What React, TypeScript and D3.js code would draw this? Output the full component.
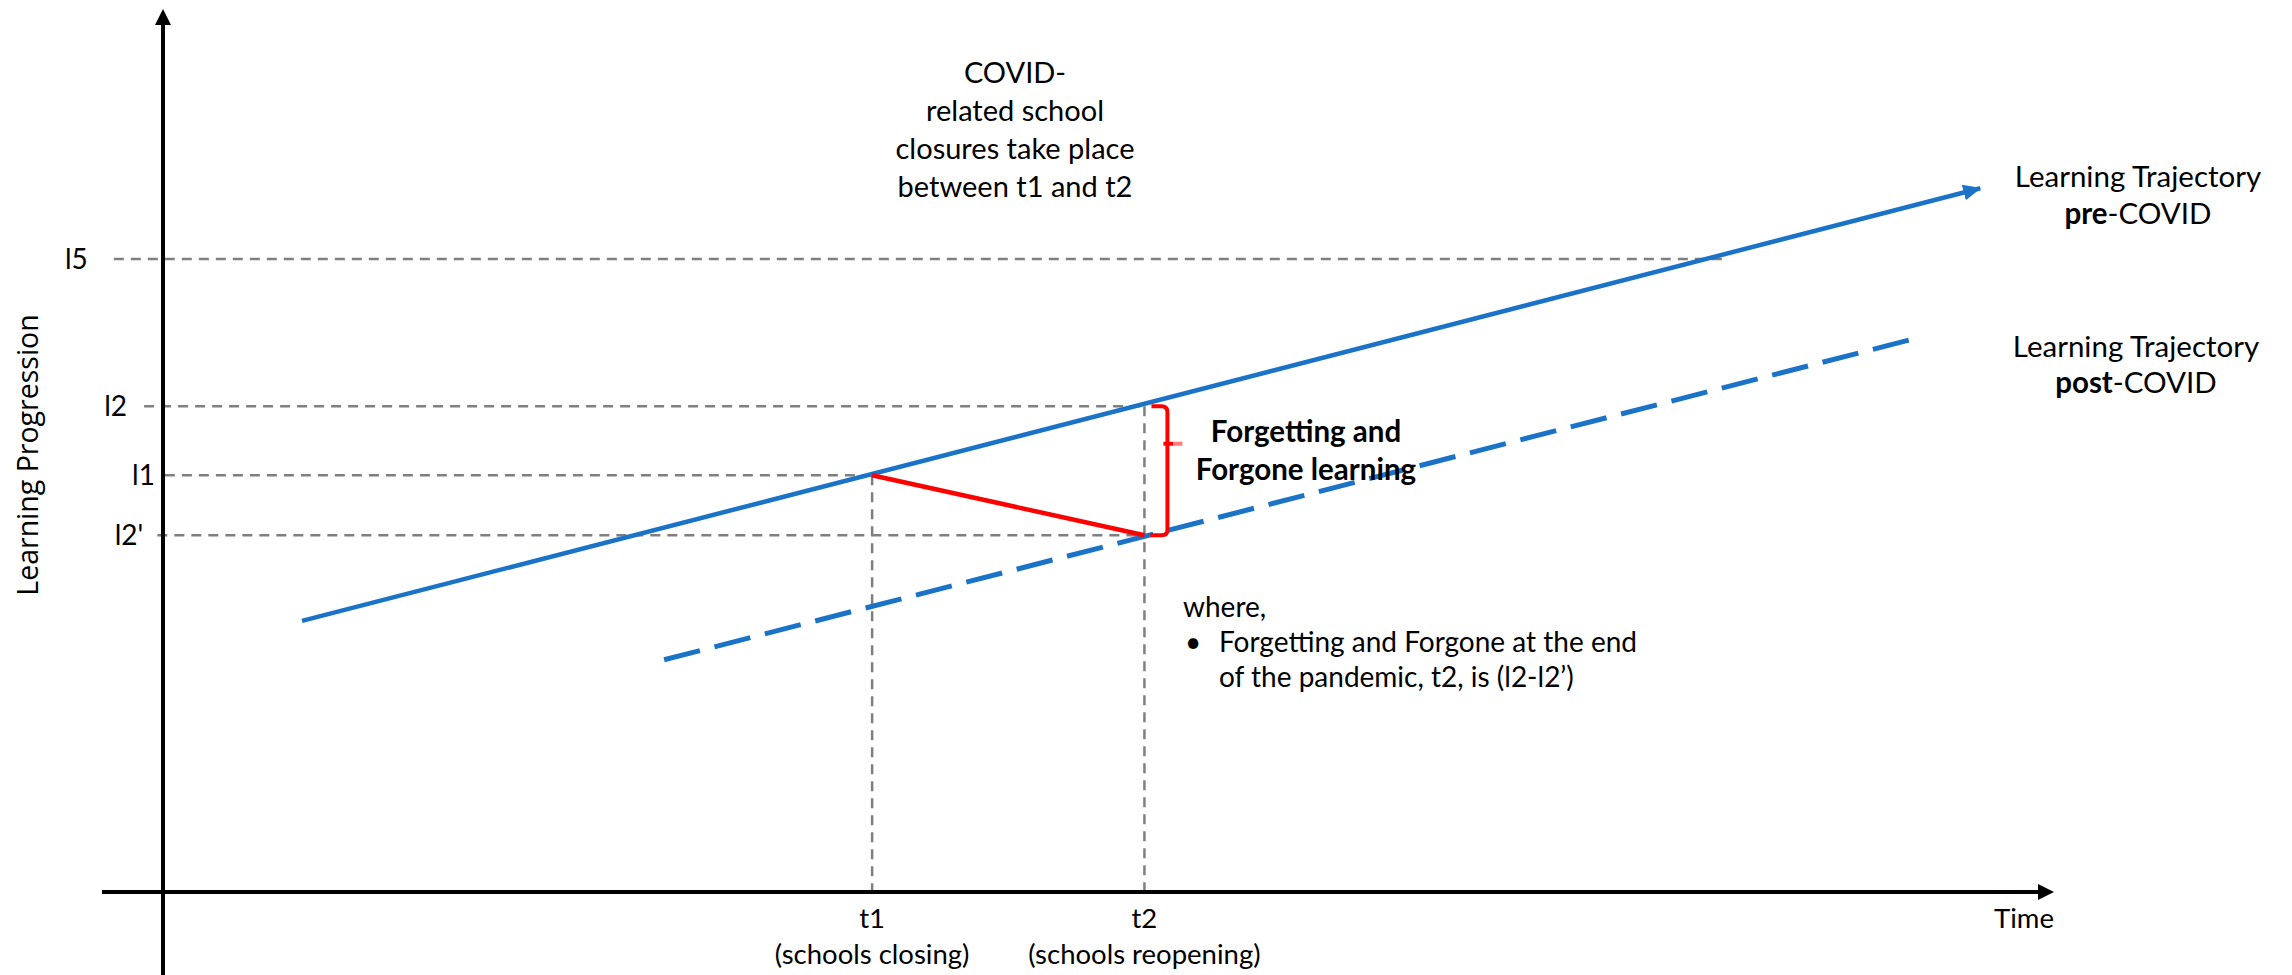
import * as d3 from "d3";

const WIDTH = 2292;
const HEIGHT = 975;

// time positions (abstract units along the Time axis)
const timeNames = ["t1", "t2"];
const timeValues = [37.5, 51.9];
const timeNotes = ["(schools closing)", "(schools reopening)"];

// learning levels marked on the vertical axis
const levelNames = ["l5", "l2", "l1", "l2'"];
const levelValues = [71.7, 55.0, 47.2, 40.4];
const levelLineFrom = [-2.6, -1.0, 0.1, -0.3];
const levelLineTo = [82.6, 51.9, 37.5, 51.9];

// trajectories: [time, level]
const preCovid: [number, number][] = [
  [7.35, 30.7],
  [96.1, 79.7],
];
const postCovid: [number, number][] = [
  [26.5, 26.3],
  [92.5, 62.6],
];
// drop in learning while schools are closed: (t1, l1) -> (t2, l2')
const closureLoss: [number, number][] = [
  [37.5, 47.2],
  [51.9, 40.4],
];

const covidNote = [
  "COVID-",
  "related school",
  "closures take place",
  "between t1 and t2",
];
const whereNote = [
  "Forgetting and Forgone at the end",
  "of the pandemic, t2, is (l2-l2\u2019)",
];

const FONT = "Lato, 'Open Sans', sans-serif";
const BLUE = "#1b73c8";
const RED = "#ff0000";
const GREY = "#7f7f7f";

export default function App() {
  const x = d3.scaleLinear().domain([0, 100]).range([163, 2054]);
  const y = d3.scaleLinear().domain([0, 100]).range([892, 9]);

  const line = d3
    .line<[number, number]>()
    .x((d) => x(d[0]))
    .y((d) => y(d[1]));

  const [x0, x1] = x.range();
  const [yBottom, yTop] = y.range();

  // brace between l2 and l2' just right of t2
  const bx = x(timeValues[1]) + 23;
  const bTop = y(levelValues[1]);
  const bBot = y(levelValues[3]);
  const bMid = bTop + (bBot - bTop) * 0.29;
  const brace = d3.path();
  brace.moveTo(bx - 16, bTop);
  brace.lineTo(bx - 6, bTop);
  brace.quadraticCurveTo(bx, bTop, bx, bTop + 6);
  brace.lineTo(bx, bBot - 5);
  brace.quadraticCurveTo(bx, bBot, bx - 6, bBot);
  brace.lineTo(bx - 17, bBot);

  const labelGap = [26, 17, 10, 14];

  return (
    <svg
      width={WIDTH}
      height={HEIGHT}
      viewBox={`0 0 ${WIDTH} ${HEIGHT}`}
      style={{ position: "absolute", left: 0, top: 0, display: "block", background: "#fff" }}
      fontFamily={FONT}
    >
      <defs>
        <marker
          id="blueHead"
          markerUnits="userSpaceOnUse"
          viewBox="0 -9 18 18"
          refX={17}
          refY={0}
          markerWidth={18}
          markerHeight={18}
          orient="auto"
        >
          <path d="M0,-8L18,0L0,8Z" fill={BLUE} />
        </marker>
      </defs>

      {/* level reference lines */}
      {levelNames.map((name, i) => (
        <g key={name}>
          <line
            x1={x(levelLineFrom[i])}
            x2={x(levelLineTo[i])}
            y1={y(levelValues[i])}
            y2={y(levelValues[i])}
            stroke={GREY}
            strokeWidth={2.5}
            strokeDasharray="10 7"
          />
          <text
            x={x(levelLineFrom[i]) - labelGap[i]}
            y={y(levelValues[i]) + 10}
            textAnchor="end"
            fontSize={28}
          >
            {name}
          </text>
        </g>
      ))}

      {/* time reference lines */}
      {timeNames.map((name, i) => (
        <g key={name}>
          <line
            x1={x(timeValues[i])}
            x2={x(timeValues[i])}
            y1={y(i === 0 ? levelValues[2] : levelValues[1])}
            y2={yBottom}
            stroke={GREY}
            strokeWidth={2.5}
            strokeDasharray="10 7"
          />
          <text x={x(timeValues[i])} y={928} textAnchor="middle" fontSize={27.5}>
            {name}
          </text>
          <text x={x(timeValues[i])} y={964} textAnchor="middle" fontSize={27.5}>
            {timeNotes[i]}
          </text>
        </g>
      ))}

      {/* axes */}
      <line x1={x0} x2={x0} y1={HEIGHT} y2={yTop + 12} stroke="#000" strokeWidth={4} />
      <path d={`M${x0},${yTop}L${x0 - 8},${yTop + 16}L${x0 + 8},${yTop + 16}Z`} fill="#000" />
      <line x1={102} x2={x1 - 12} y1={yBottom} y2={yBottom} stroke="#000" strokeWidth={4} />
      <path d={`M${x1},${yBottom}L${x1 - 16},${yBottom - 8}L${x1 - 16},${yBottom + 8}Z`} fill="#000" />

      <text x={x1} y={928} textAnchor="end" fontSize={27.5}>
        Time
      </text>
      <text
        transform={`translate(38,455) rotate(-90)`}
        textAnchor="middle"
        fontSize={28.5}
        fontFamily="'Open Sans', sans-serif"
      >
        Learning Progression
      </text>

      {/* trajectories */}
      <path
        d={line(preCovid)!}
        fill="none"
        stroke={BLUE}
        strokeWidth={4.5}
        markerEnd="url(#blueHead)"
      />
      <path
        d={line(postCovid)!}
        fill="none"
        stroke={BLUE}
        strokeWidth={5}
        strokeDasharray="37 15"
      />

      {/* loss */}
      <path d={line(closureLoss)!} fill="none" stroke={RED} strokeWidth={4.5} />
      <path d={brace.toString()} fill="none" stroke={RED} strokeWidth={4} />
      <line x1={bx - 4} x2={bx + 6} y1={bMid} y2={bMid} stroke={RED} strokeWidth={4} />
      <line x1={bx + 6} x2={bx + 15} y1={bMid} y2={bMid} stroke="#ff7a7a" strokeWidth={4} />

      <text x={1306} textAnchor="middle" fontSize={29.5} fontWeight="bold">
        <tspan x={1306} y={442}>Forgetting and</tspan>
        <tspan x={1306} y={480}>Forgone learning</tspan>
      </text>

      {/* notes */}
      <text textAnchor="middle" fontSize={29}>
        {covidNote.map((t, i) => (
          <tspan key={t} x={1015} y={83 + i * 38}>
            {t}
          </tspan>
        ))}
      </text>

      <text x={2138} y={187} textAnchor="middle" fontSize={29.5}>
        Learning Trajectory
      </text>
      <text x={2138} y={224} textAnchor="middle" fontSize={29.5}>
        <tspan fontWeight="bold">pre</tspan>-COVID
      </text>
      <text x={2136} y={357} textAnchor="middle" fontSize={29.5}>
        Learning Trajectory
      </text>
      <text x={2136} y={393} textAnchor="middle" fontSize={29.5}>
        <tspan fontWeight="bold">post</tspan>-COVID
      </text>

      <text x={1183} y={617} fontSize={28}>
        where,
      </text>
      <text x={1185} y={652} fontSize={28}>
        •
      </text>
      <text fontSize={28}>
        {whereNote.map((t, i) => (
          <tspan key={t} x={1219} y={652 + i * 35}>
            {t}
          </tspan>
        ))}
      </text>
    </svg>
  );
}
